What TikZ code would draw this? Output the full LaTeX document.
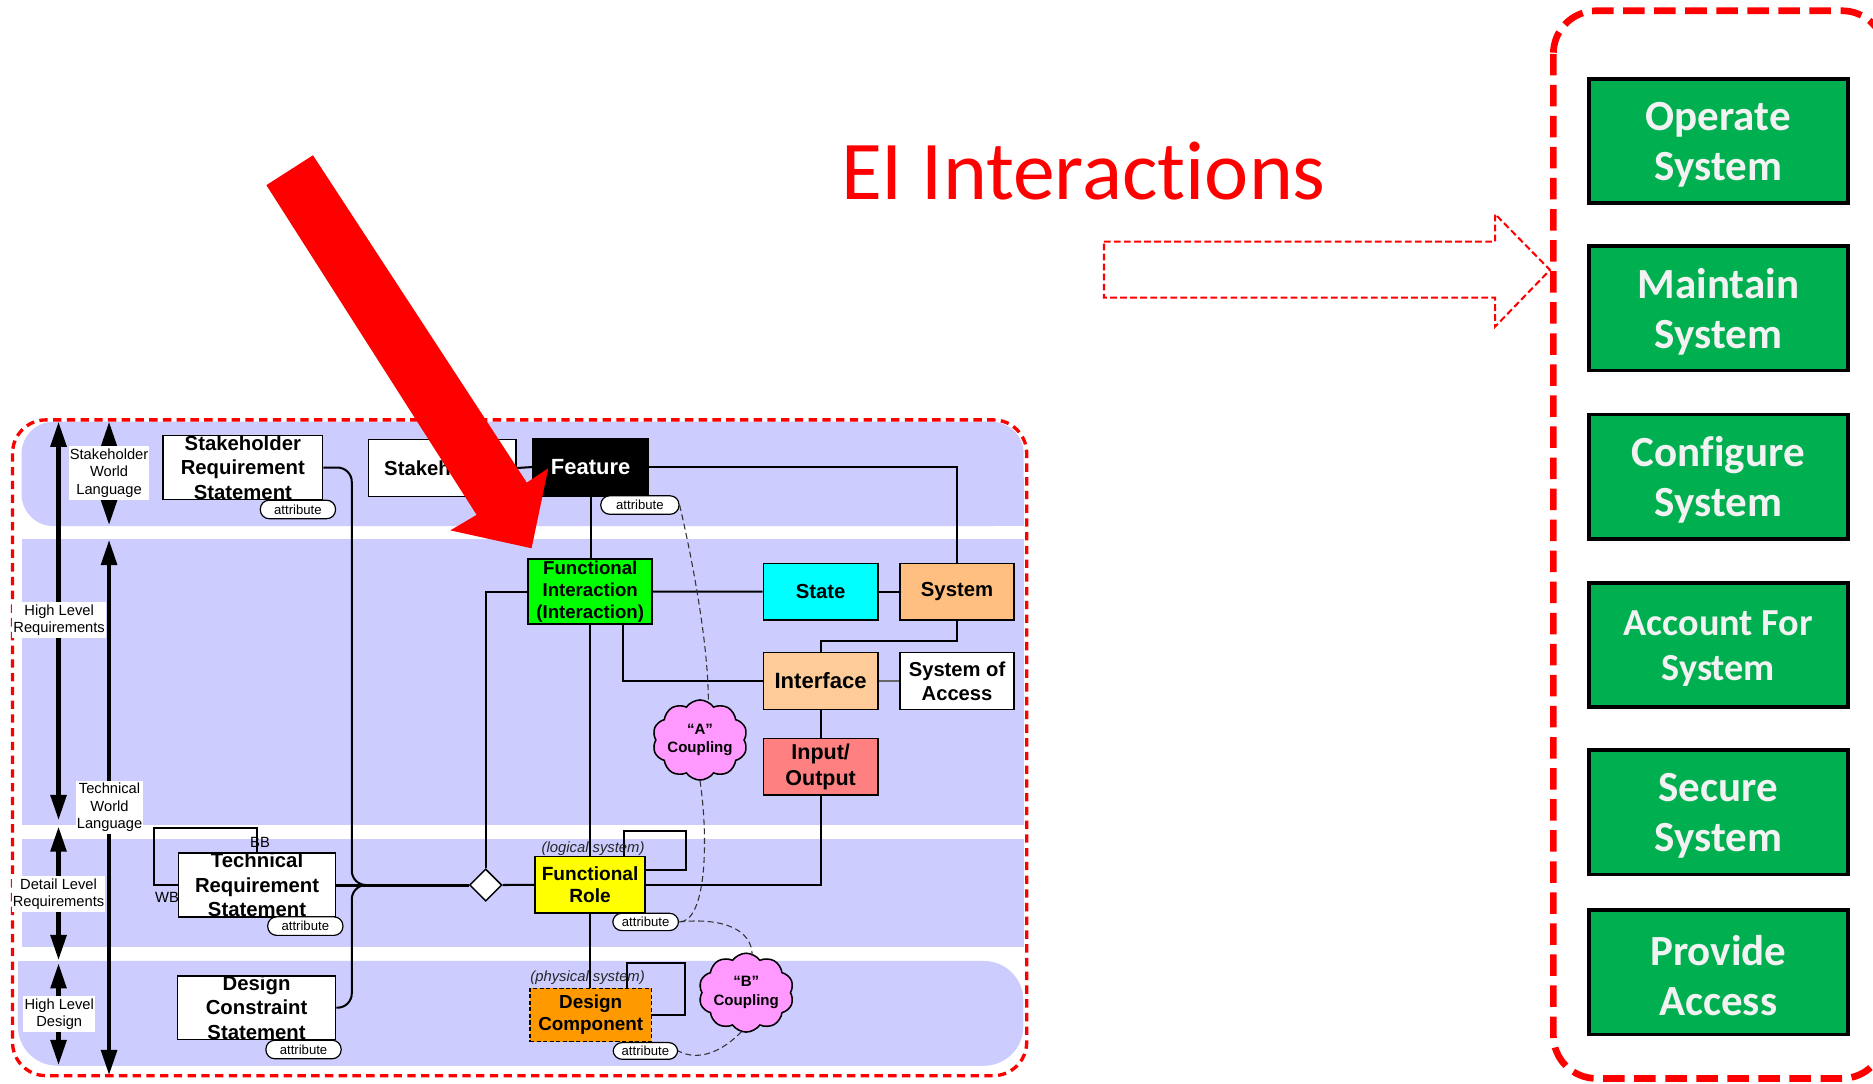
\documentclass[tikz,border=0pt]{standalone}
\usepackage{fontspec}
\setmainfont{Liberation Sans}
\newfontfamily\calib[Ligatures={NoCommon}]{Carlito}
\usetikzlibrary{arrows.meta,shapes.geometric,shapes.symbols,calc}
\newcommand{\myfs}[2]{\fontsize{#1}{#2}\selectfont}
\definecolor{lav}{HTML}{CCCCFF}
\definecolor{figreen}{HTML}{00FF00}
\definecolor{stcyan}{HTML}{00FFFF}
\definecolor{sysor}{HTML}{FFBF80}
\definecolor{ifor}{HTML}{FFCC99}
\definecolor{iored}{HTML}{FF8080}
\definecolor{fryel}{HTML}{FFFF00}
\definecolor{dcor}{HTML}{FF9900}
\definecolor{cpink}{HTML}{FF99FF}
\definecolor{gbg}{HTML}{00B050}
\definecolor{gtxt}{HTML}{F2F2F2}
\definecolor{eired}{HTML}{FF0000}
\tikzset{
  conn/.style={line width=1.7pt, draw=black},
  bx/.style={draw=black, line width=1.3pt, inner sep=0pt, align=center, font=\myfs{17}{20.5}\bfseries},
  pill/.style={draw=black, line width=1pt, fill=white, rounded corners=7.5pt, inner sep=0pt, minimum width=63pt, minimum height=15.5pt, font=\myfs{11}{13}},
  lbl/.style={fill=white, inner xsep=1pt, inner ysep=2pt, align=center, font=\myfs{12.3}{14.5}},
  varr/.style={line width=3.5pt, {Triangle[width=13pt,length=21pt]}-{Triangle[width=13pt,length=21pt]}},
  gbox/.style={draw=black, line width=3pt, fill=gbg, minimum width=217pt, minimum height=104pt, inner sep=0pt},
  gtext/.style={inner sep=0pt, align=center, text=gtxt, font=\calib\bfseries\myfs{36}{42}},
  dcurve/.style={draw=black!80, line width=0.9pt, dash pattern=on 5pt off 3pt},
  cloudnode/.style={cloud, cloud puffs=10, cloud puff arc=110, cloud ignores aspect, draw=black, line width=1.3pt, fill=cpink, inner sep=0pt, align=center, font=\myfs{12.6}{15.6}\bfseries},
  itl/.style={inner sep=0pt, font=\myfs{12.4}{14}\itshape, text=black!85},
  small/.style={inner sep=0pt, font=\myfs{12.4}{14}}
}
\begin{document}
\begin{tikzpicture}[x=1pt,y=-1pt]
\useasboundingbox (0,0) rectangle (1568,907);
\clip (0,0) rectangle (1568,907);
\fill[white] (0,0) rectangle (1568,907);

% ---------- lavender bands ----------
\fill[lav, rounded corners=27pt] (18,353) rectangle (857,440.5);
\fill[lav] (820,400) rectangle (857,440.5);
\fill[lav] (18,451.3) rectangle (857,690.7);
\fill[lav] (18,702.4) rectangle (857,792.5);
\fill[lav, rounded corners=33pt] (15,804.5) rectangle (856.7,892.2);
\fill[lav] (15,804.5) rectangle (60,850);

% ---------- left dashed frame ----------
\draw[eired, line width=2.8pt, dash pattern=on 7pt off 4.5pt, rounded corners=28pt] (10.5,351.5) rectangle (859.5,900.5);

% ---------- vertical arrows ----------
\coordinate (a1t) at (49,353);   \coordinate (a1b) at (49,686.5);
\coordinate (a2t) at (91.3,353); \coordinate (a2b) at (91.3,439.5);
\coordinate (a3t) at (91.3,452); \coordinate (a3b) at (91.3,900);
\coordinate (a4t) at (49,692);   \coordinate (a4b) at (49,803.7);
\coordinate (a5t) at (49,806.5); \coordinate (a5b) at (49,891.6);
\draw[varr] (a1t) -- (a1b);
\draw[varr] (a2t) -- (a2b);
\draw[varr] (a3t) -- (a3b);
\draw[varr] (a4t) -- (a4b);
\draw[varr] (a5t) -- (a5b);
\node[lbl] (swl) at (91.3,396) {Stakeholder\\World\\Language};
\node[lbl] (hlr) at (49.5,519) {High Level\\Requirements};
\node[lbl] (twl) at (91.7,676) {Technical\\World\\Language};
\node[lbl] (dlr) at (49,748.5) {Detail Level\\Requirements};
\node[lbl] (hld) at (49.6,849) {High Level\\Design};

% ---------- nodes ----------
\node[bx, fill=white, minimum width=133.4pt, minimum height=53.3pt] (srs) at (203.3,391.4) {Stakeholder\\Requirement\\Statement};
\node[bx, fill=white, minimum width=123.4pt, minimum height=48pt] (stk) at (370.3,391.8) {Stakeholder};
\node[bx, fill=black, text=white, minimum width=97pt, minimum height=48pt, font=\myfs{18.4}{22}\bfseries] (feat) at (494.5,391) {Feature};
\node[bx, fill=figreen, minimum width=103.8pt, minimum height=54.4pt, font=\myfs{15.6}{18.4}\bfseries] (fi) at (494.1,495.2) {Functional\\Interaction\\(Interaction)};
\node[bx, fill=stcyan, minimum width=95.8pt, minimum height=47.4pt] (state) at (687,495.3) {State};
\node[bx, fill=sysor, minimum width=95.5pt, minimum height=47.4pt] (sys) at (801.2,495.3) {System};
\node[bx, fill=ifor, minimum width=95.8pt, minimum height=47.4pt, font=\myfs{18.5}{21}\bfseries] (iface) at (687,570.1) {Interface};
\node[bx, fill=white, minimum width=95.5pt, minimum height=47.4pt, font=\myfs{16.9}{20.2}\bfseries] (soa) at (801.2,570.1) {System of\\Access};
\node[bx, fill=iored, minimum width=95.8pt, minimum height=47.5pt, font=\myfs{18}{21.5}\bfseries] (io) at (687,641.9) {Input/\\Output};
\node[bx, fill=fryel, minimum width=92pt, minimum height=47pt, font=\myfs{16}{18.6}\bfseries] (fr) at (494,740.7) {Functional\\Role};
\node[bx, fill=dcor, dash pattern=on 3.5pt off 2pt, line width=1.2pt, minimum width=101.7pt, minimum height=44.7pt, font=\myfs{15.8}{18.6}\bfseries] (dc) at (494.5,849.7) {Design\\Component};
\node[bx, fill=white, minimum width=131.5pt, minimum height=53pt] (trs) at (215.2,740.9) {Technical\\Requirement\\Statement};
\node[bx, fill=white, minimum width=132.4pt, minimum height=53pt] (dcs) at (214.8,843.6) {Design\\Constraint\\Statement};
\node[diamond, draw=black, fill=white, line width=1.2pt, minimum width=27pt, minimum height=27pt, inner sep=0pt] (dia) at (406.6,740.9) {};
\node[cloudnode, minimum width=77pt, minimum height=67pt] (cA) at (586,619.5) {“A”\\Coupling};
\node[cloudnode, minimum width=69pt, minimum height=66pt] (cB) at (624.7,831) {“B”\\Coupling};

% ---------- connectors ----------
\coordinate (jx) at (294.5,740.9);
\coordinate (frl) at (574.3,695.7);
\coordinate (dcl) at (573.7,805.9);
\coordinate (trl) at (128.6,693.5);
\draw[conn, line width=2.5pt] (trs.east) -- (dia.west);
\draw[conn, rounded corners=12pt] (srs.east) -| (jx) -- (dia.west);
\draw[conn, rounded corners=12pt] (dcs.east) -| (jx) -- (dia.west);
\draw[conn] (fi.west) -| (dia.north);
\draw[conn] (dia.east) -- (fr.west);
\draw[conn] (stk.east) -- (feat.west);
\draw[conn] (feat.east) -| (sys.north);
\draw[conn] (feat.south) -- (feat.south |- fi.north);
\draw[conn] (fi.east) -- (state.west);
\draw[conn] (state.east) -- (sys.west);
\draw[conn] (sys.south) -- ++(0,16.8) -| (iface.north);
\draw[conn] ($(fi.south)+(27.4,0)$) |- (iface.west);
\draw[draw=black!60, line width=1pt] (iface.east) -- (soa.west);
\draw[conn] (iface.south) -- (io.north);
\draw[conn] (io.south) |- (fr.east);
\draw[conn] (fi.south) -- (fi.south |- fr.north);
\draw[conn] ($(fr.north)+(28,0)$) |- (frl) |- ($(fr.east)+(0,-12.4)$);
\draw[conn] (fr.south) -- (fr.south |- dc.north);
\draw[conn] ($(dc.north)+(30,0)$) |- (dcl) |- (dc.east);
\draw[conn] (trs.north) |- (trl) |- (trs.west);

% ---------- attribute pills ----------
\node[pill] (srsp) at (249.4,426.5) {attribute};
\node[pill, minimum width=65.5pt] (fp) at (535.7,422.8) {attribute};
\node[pill, minimum width=55pt, minimum height=14.5pt] (frp) at (540.5,771.8) {attribute};
\node[pill, minimum width=54pt, minimum height=14pt] (dcp) at (540.3,879.8) {attribute};
\node[pill] (trsp) at (255.6,775.3) {attribute};
\node[pill] (dcsp) at (254.1,878.6) {attribute};

% ---------- dashed couplings ----------
\draw[dcurve] (fp.east) .. controls (580,470) and (593,540) .. ($(cA.north)+(7,2)$);
\draw[dcurve] (cA.south) .. controls (593,700) and (592,772) .. (frp.east);
\draw[dcurve] (frp.east) .. controls (605,768) and (630,778) .. ($(cB.north)+(5,3)$);
\draw[dcurve] ($(cB.south)+(-4,-1)$) .. controls (605,880) and (585,889) .. (dcp.east);

% ---------- small labels ----------
\node[itl] (lgs) at (496.5,710.2) {(logical system)};
\node[itl] (phs) at (491.9,818.2) {(physical system)};
\node[small] (bb) at (217.7,705.5) {BB};
\node[small] (wb) at (139.9,751.2) {WB};

% ---------- big red arrow ----------
\fill[eired] (223,155) -- (262,130) -- (441,404) -- (459,392) -- (445,459) -- (377,444) -- (399,431) -- cycle;

% ---------- title ----------
\node[anchor=base, text=eired, inner sep=0pt, font=\calib\myfs{70}{84}] (title) at (907,167) {EI Interactions};

% ---------- hollow dashed block arrow ----------
\draw[eired, line width=1.7pt, dash pattern=on 5.6pt off 2.8pt] (924.2,202.3) -- (1251.6,202.3) -- (1251.6,179.2) -- (1297.6,226) -- (1251.6,273.5) -- (1251.6,249.2) -- (924.2,249.2) -- cycle;

% ---------- right container ----------
\draw[eired, line width=5.6pt, dash pattern=on 18pt off 8pt, rounded corners=36pt] (1300.4,9) rectangle (1578,902.8);
\node[gbox] (g1) at (1438.5,118) {};
\node[gbox] (g2) at (1438.5,258) {};
\node[gbox] (g3) at (1438.5,399) {};
\node[gbox] (g4) at (1438.5,540) {};
\node[gbox] (g5) at (1438.5,680) {};
\node[gbox] (g6) at (1438.5,814) {};
\node[gtext] (g1t) at ($(g1)+(0,3)$) {Operate\\System};
\node[gtext] (g2t) at ($(g2)+(0,3)$) {Maintain\\System};
\node[gtext] (g3t) at ($(g3)+(0,3)$) {Configure\\System};
\node[gtext, font=\calib\bfseries\myfs{32}{37}] (g4t) at ($(g4)+(0,3)$) {Account For\\System};
\node[gtext] (g5t) at ($(g5)+(0,3)$) {Secure\\System};
\node[gtext] (g6t) at ($(g6)+(0,3)$) {Provide\\Access};
\end{tikzpicture}
\end{document}
